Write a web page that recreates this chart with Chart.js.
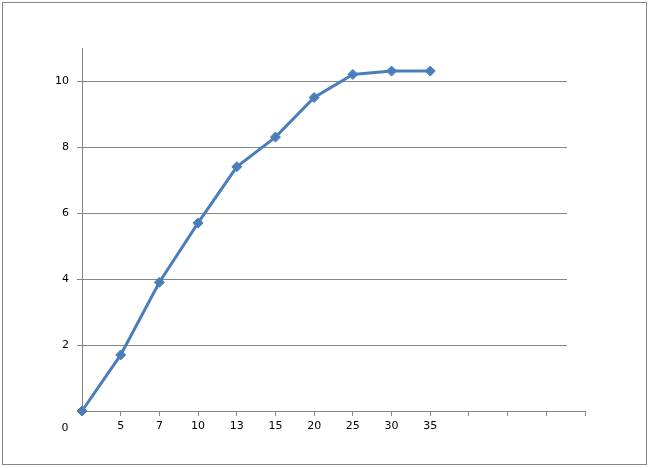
<!DOCTYPE html>
<html>
<head>
<meta charset="utf-8">
<script src="https://cdn.jsdelivr.net/npm/chart.js@4"></script>
<style>
  body { margin: 0; background: #fff; }
  #wrap { width: 652px; height: 468px; position: relative; }
</style>
</head>
<body>
<div id="wrap"><canvas id="chart"></canvas></div>
<script>
const categories = ['0', '5', '7', '10', '13', '15', '20', '25', '30', '35', '', '', '', ''];
const values = [0, 1.7, 3.9, 5.7, 7.4, 8.3, 9.5, 10.2, 10.3, 10.3];
const yTicks = [0, 2, 4, 6, 8, 10];

const axisGray = '#868686';
const fontSpec = { family: 'DejaVu Sans', size: 11 };

// frame, shortened horizontal gridlines, and the lone "0" label left of the corner
const extras = {
  id: 'extras',
  beforeDatasetsDraw(chart) {
    const ctx = chart.ctx;
    const a = chart.chartArea;
    const y = chart.scales.y;
    ctx.save();
    ctx.strokeStyle = axisGray;
    ctx.lineWidth = 1;
    yTicks.slice(1).forEach(v => {
      const py = Math.round(y.getPixelForValue(v)) + 0.5;
      ctx.beginPath();
      ctx.moveTo(a.left, py);
      ctx.lineTo(a.right - 18, py);
      ctx.stroke();
    });
    ctx.restore();
  },
  afterDraw(chart) {
    const ctx = chart.ctx;
    const x = chart.scales.x;
    ctx.save();
    ctx.strokeStyle = axisGray;
    ctx.lineWidth = 1;
    ctx.strokeRect(2.5, 2.5, 644, 462);
    ctx.fillStyle = '#000';
    ctx.font = '11px "DejaVu Sans"';
    ctx.textAlign = 'center';
    ctx.textBaseline = 'middle';
    ctx.fillText(categories[0], x.getPixelForValue(0) - 17, 428);
    ctx.restore();
  }
};

const config = {
  type: 'line',
  data: {
    labels: categories,
    datasets: [{
      data: values,
      borderColor: '#4A7EBB',
      backgroundColor: '#4A7EBB',
      borderWidth: 3,
      pointStyle: 'rectRot',
      pointRadius: 5,
      pointBorderWidth: 1,
      tension: 0,
      clip: false
    }]
  },
  options: {
    responsive: false,
    animation: false,
    layout: { padding: { top: 48, right: 67, bottom: 0, left: 0 } },
    plugins: { legend: { display: false }, tooltip: { enabled: false } },
    scales: {
      x: {
        type: 'category',
        offset: false,
        grid: { offset: false, drawOnChartArea: false, color: axisGray, tickLength: 5 },
        border: { color: axisGray },
        ticks: {
          autoSkip: false, maxRotation: 0, padding: 4, color: '#000', font: fontSpec,
          callback: (v, i) => i === 0 ? '' : categories[i]
        },
        afterFit: s => { s.height = 57; }
      },
      y: {
        min: 0,
        max: 11,
        grid: { drawOnChartArea: false, color: axisGray, tickLength: 5 },
        border: { color: axisGray },
        ticks: {
          color: '#000', font: fontSpec, padding: 8,
          callback: v => v === 0 ? '' : v
        },
        afterBuildTicks: s => { s.ticks = yTicks.map(v => ({ value: v })); },
        afterFit: s => { s.width = 82; }
      }
    }
  },
  plugins: [extras]
};

const cv = document.getElementById('chart');
cv.width = 652;
cv.height = 468;
new Chart(cv.getContext('2d'), config);
</script>
</body>
</html>
